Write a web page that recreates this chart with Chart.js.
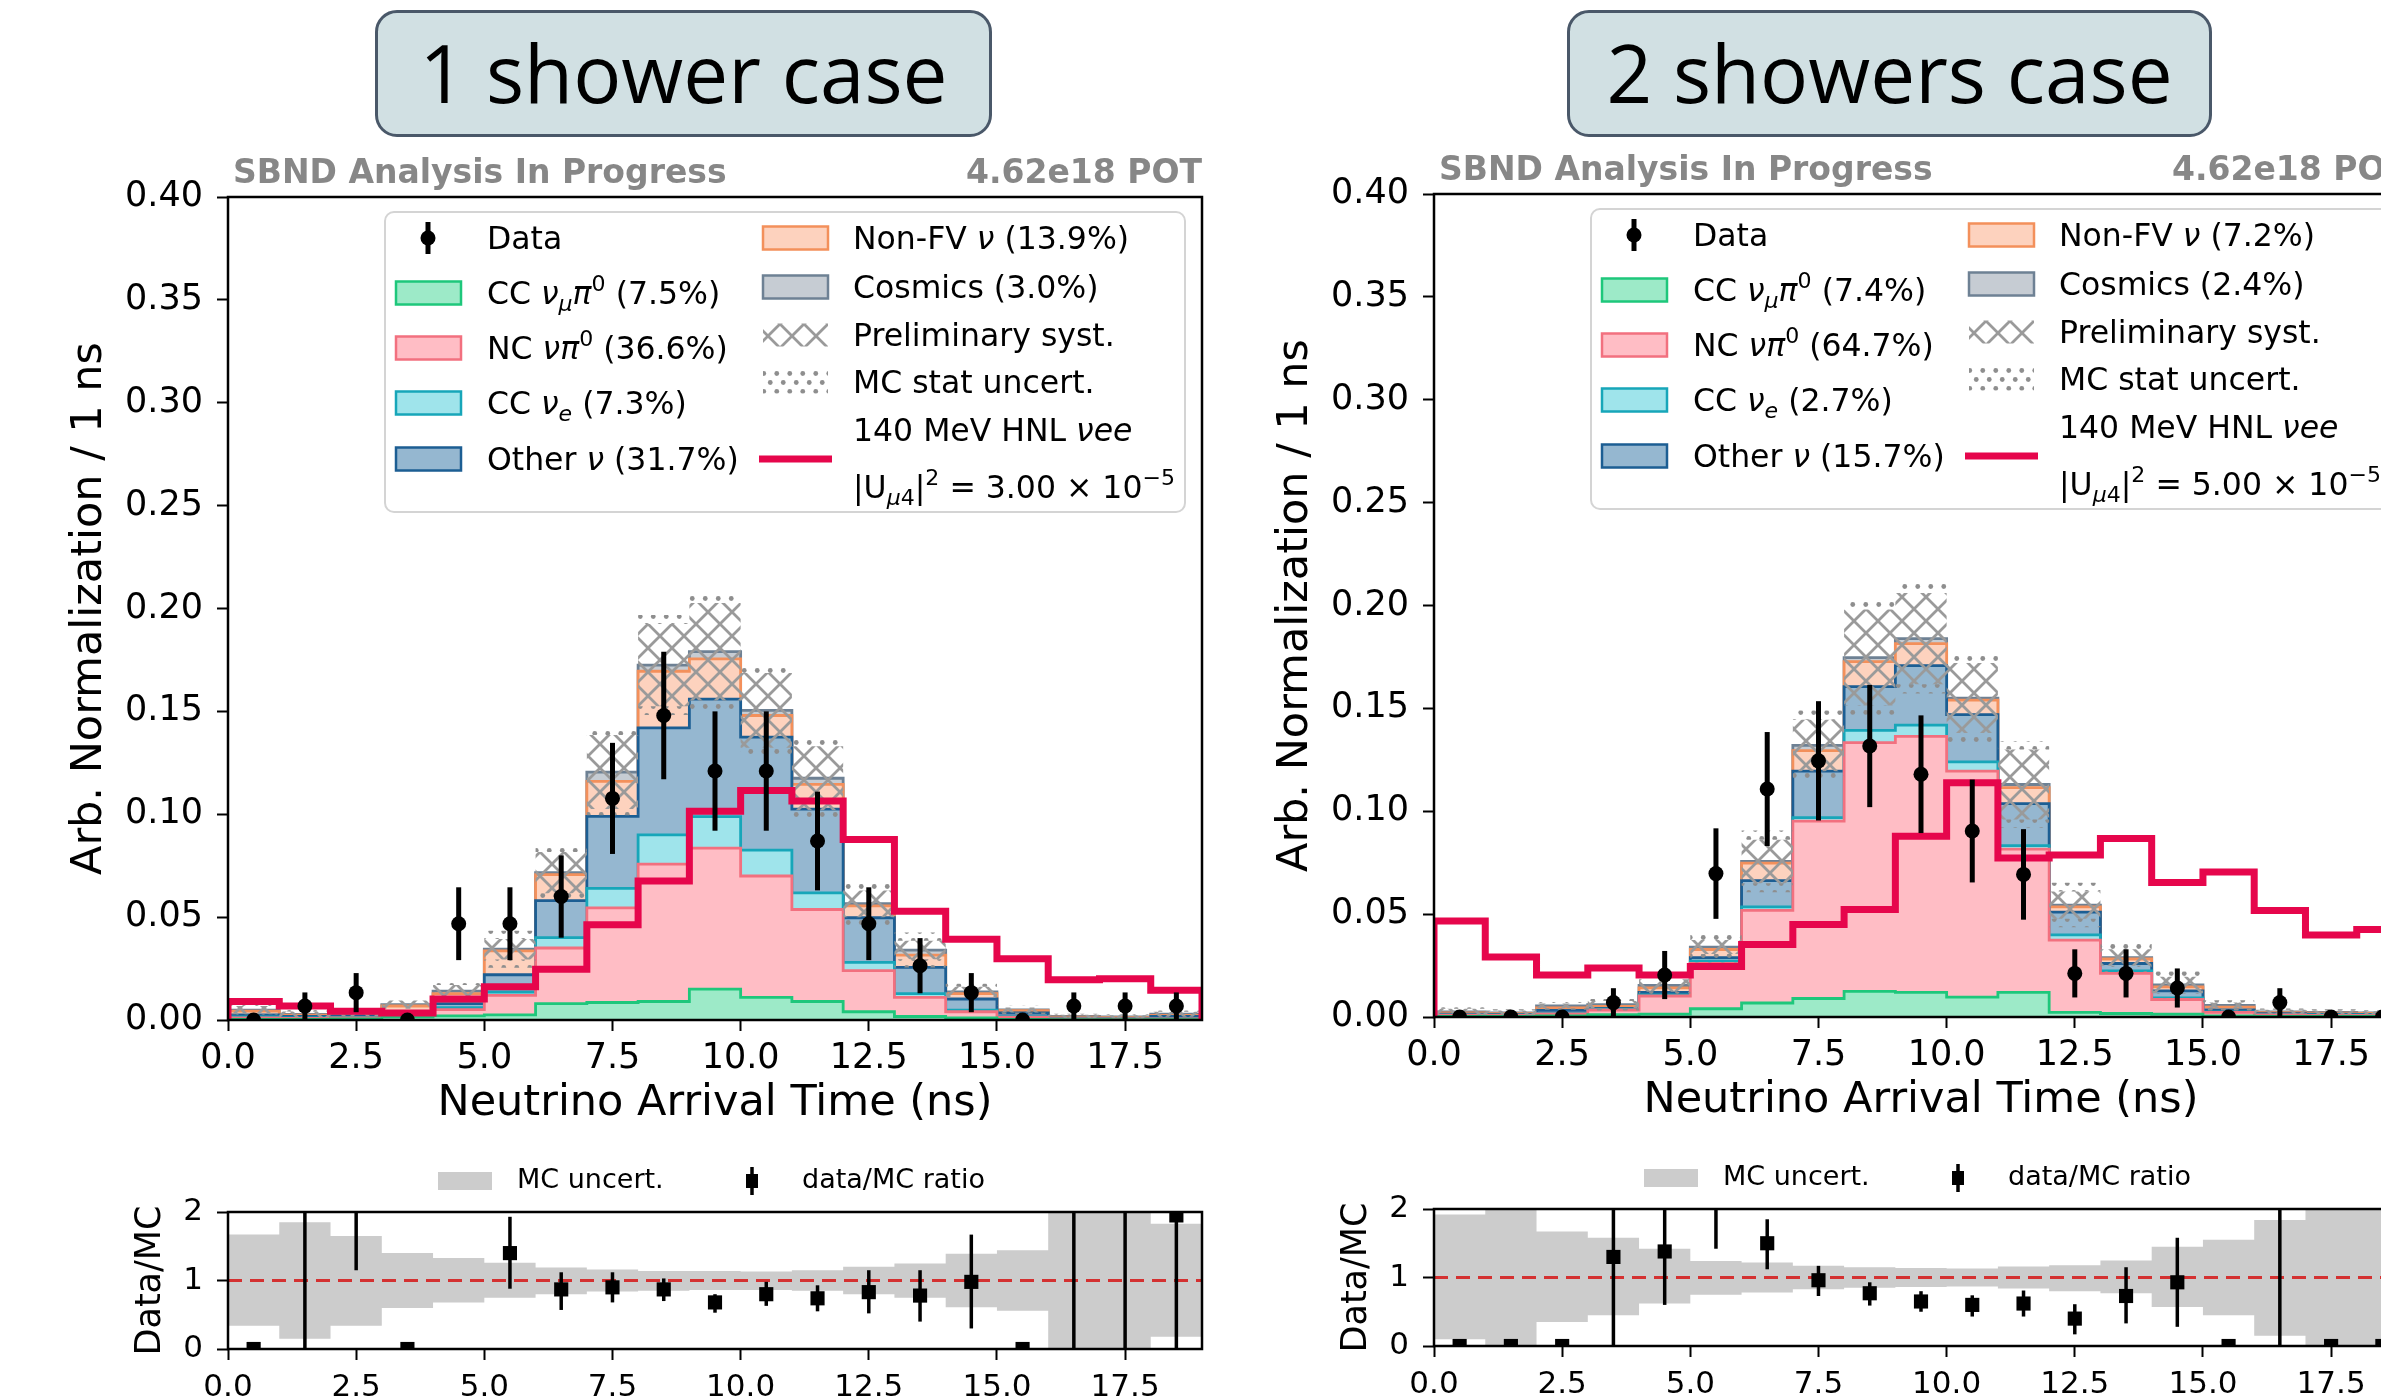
<!DOCTYPE html>
<html>
<head>
<meta charset="utf-8">
<title>Neutrino arrival time - SBND HNL</title>
<script src="https://cdn.jsdelivr.net/npm/chart.js@4.4.1/dist/chart.umd.min.js"></script>
<style>
  html, body { margin: 0; padding: 0; background: #fff; }
  body { width: 2381px; height: 1399px; overflow: hidden; position: relative; }
  canvas { position: absolute; }
  .case { position: absolute; top: 10px; height: 127px; box-sizing: border-box;
          border: 3px solid #4a5869; border-radius: 22px; background: #d1e0e3;
          font-family: "Open Sans"; font-size: 80px; line-height: 118px;
          text-align: center; color: #000; }
</style>
</head>
<body>
<canvas id="main1" width="1260" height="1130" style="left:0;top:0"></canvas>
<canvas id="ratio1" width="1260" height="249" style="left:0;top:1150px"></canvas>
<canvas id="main2" width="1260" height="1130" style="left:1206px;top:-3px"></canvas>
<canvas id="ratio2" width="1260" height="249" style="left:1206px;top:1147px"></canvas>
<div class="case" style="left:375px;width:617px">1 shower case</div>
<div class="case" style="left:1567px;width:645px">2 showers case</div>
<script>
Chart.defaults.font.family = '"DejaVu Sans"';
Chart.defaults.color = '#000';

// bins (ns) and tick labels
const BIN_EDGES = [0, 1, 2, 3, 4, 5, 6, 7, 8, 9, 10, 11, 12, 13, 14, 15, 16, 17, 18, 19];
const X_TICKS = [0, 2.5, 5, 7.5, 10, 12.5, 15, 17.5];
const Y_TICKS = [0, 0.05, 0.1, 0.15, 0.2, 0.25, 0.3, 0.35, 0.4];
const RATIO_TICKS = [0, 1, 2];

// ---- 1 shower case ----
const one_ccnumu = [0.0003, 0.0003, 0.0005, 0.0015, 0.002, 0.0025, 0.008, 0.0085, 0.009, 0.015, 0.011, 0.009, 0.004, 0.0017, 0.001, 0.0003, 0.0002, 0.0002, 0.0002];
const one_ncpi0  = [0.0007, 0.0005, 0.0005, 0.0005, 0.003, 0.0095, 0.027, 0.046, 0.0668, 0.0685, 0.059, 0.0447, 0.020, 0.0093, 0.003, 0.0011, 0.0003, 0.0003, 0.0003];
const one_ccnue  = [0.0005, 0.0002, 0.0002, 0.001, 0.001, 0.0016, 0.005, 0.0095, 0.0142, 0.0153, 0.0126, 0.0081, 0.004, 0.0018, 0.0008, 0.0003, 0.0001, 0.0001, 0.0001];
const one_other  = [0.001, 0.0007, 0.0008, 0.0006, 0.002, 0.0084, 0.018, 0.035, 0.052, 0.0572, 0.0549, 0.0407, 0.0217, 0.0128, 0.0054, 0.0017, 0.0003, 0.0002, 0.0011];
const one_nonfv  = [0.0018, 0.0007, 0.001, 0.0032, 0.0048, 0.0116, 0.0127, 0.017, 0.0275, 0.0195, 0.0105, 0.012, 0.0058, 0.0059, 0.0026, 0.0011, 0.0005, 0.0004, 0.0005];
const one_cosmic = [0.0005, 0.0003, 0.0003, 0.0007, 0.0012, 0.0008, 0.0009, 0.0045, 0.003, 0.0035, 0.0025, 0.003, 0.001, 0.0025, 0.0008, 0.0004, 0.0003, 0.0003, 0.0006];
const one_syst   = [0.002, 0.0014, 0.0015, 0.002, 0.003, 0.005, 0.010, 0.018, 0.020, 0.0237, 0.0182, 0.0155, 0.0065, 0.0045, 0.0025, 0.0012, 0.0008, 0.0008, 0.0012];
const one_stat   = [0.0008, 0.0007, 0.0008, 0.001, 0.0015, 0.004, 0.004, 0.003, 0.0043, 0.0043, 0.0043, 0.0045, 0.004, 0.004, 0.0015, 0.0008, 0.0005, 0.0005, 0.0006];
const one_hnl    = [0.009, 0.0068, 0.0043, 0.0034, 0.0102, 0.0162, 0.0247, 0.0463, 0.0676, 0.1014, 0.1116, 0.1065, 0.0877, 0.0528, 0.0392, 0.0298, 0.0196, 0.0201, 0.0145];
const one_data   = [0, 0.0068, 0.0133, 0, 0.0468, 0.0468, 0.060, 0.1077, 0.148, 0.121, 0.121, 0.087, 0.0468, 0.0264, 0.0133, 0, 0.0068, 0.0068, 0.0068];
const one_dataErr = [0, 0.0066, 0.0095, 0, 0.0177, 0.0177, 0.020, 0.027, 0.031, 0.029, 0.029, 0.024, 0.0177, 0.0134, 0.0095, 0, 0.0066, 0.0066, 0.0066];
const one_ratio   = [0, 2.8, 4.3, 0, 3.6, 1.4, 0.87, 0.9, 0.87, 0.68, 0.8, 0.74, 0.83, 0.78, 0.98, 0, 4.0, 4.5, 1.95];
const one_ratioLo = [0, 0, 1.15, 0, 2.2, 0.88, 0.57, 0.68, 0.70, 0.53, 0.63, 0.55, 0.52, 0.40, 0.30, 0, 0, 0, 0];
const one_ratioHi = [0, 5.6, 7.5, 0, 5.0, 1.93, 1.12, 1.12, 1.03, 0.80, 0.98, 0.93, 1.15, 1.15, 1.67, 0, 8.0, 9.0, 3.9];
const one_bandLo  = [0.34, 0.15, 0.34, 0.6, 0.68, 0.75, 0.8, 0.84, 0.85, 0.86, 0.86, 0.85, 0.8, 0.75, 0.61, 0.56, 0, 0, 0.18];
const one_bandHi  = [1.67, 1.85, 1.65, 1.4, 1.33, 1.26, 1.19, 1.16, 1.14, 1.14, 1.13, 1.15, 1.2, 1.25, 1.39, 1.44, 2, 2, 1.83];

// ---- 2 showers case ----
const two_ccnumu = [0.0003, 0.0003, 0.0005, 0.0012, 0.0014, 0.004, 0.0068, 0.009, 0.0125, 0.012, 0.0097, 0.012, 0.0022, 0.0017, 0.0014, 0.0005, 0.0003, 0.0003, 0.0003];
const two_ncpi0  = [0.0006, 0.0005, 0.001, 0.0022, 0.0088, 0.022, 0.045, 0.0862, 0.1209, 0.1244, 0.1098, 0.0696, 0.0352, 0.0195, 0.0071, 0.0017, 0.0007, 0.0005, 0.0005];
const two_ccnue  = [0.0001, 0.0001, 0.0003, 0.0004, 0.0006, 0.0012, 0.0017, 0.0017, 0.0059, 0.0055, 0.0045, 0.0017, 0.0025, 0.0012, 0.0008, 0.0003, 0.0002, 0.0002, 0.0002];
const two_other  = [0.0004, 0.0003, 0.0014, 0.0004, 0.0011, 0.0017, 0.0128, 0.0226, 0.0213, 0.0289, 0.023, 0.0204, 0.0111, 0.0036, 0.0034, 0.0009, 0.0004, 0.0004, 0.0003];
const two_nonfv  = [0.0006, 0.0004, 0.0012, 0.001, 0.0023, 0.0039, 0.0085, 0.010, 0.0121, 0.0107, 0.007, 0.0078, 0.0025, 0.0022, 0.0019, 0.0014, 0.0005, 0.0005, 0.0004];
const two_cosmic = [0.0005, 0.0004, 0.001, 0.0008, 0.0011, 0.0012, 0.0008, 0.0025, 0.002, 0.0024, 0.001, 0.0015, 0.0009, 0.0007, 0.001, 0.0008, 0.0004, 0.0003, 0.0003];
const two_syst   = [0.0015, 0.0012, 0.0012, 0.0018, 0.003, 0.0034, 0.0106, 0.0125, 0.0233, 0.0222, 0.017, 0.017, 0.0066, 0.004, 0.004, 0.0015, 0.001, 0.001, 0.0008];
const two_stat   = [0.0007, 0.0006, 0.0007, 0.001, 0.002, 0.0042, 0.0044, 0.0045, 0.0045, 0.0045, 0.0043, 0.004, 0.0042, 0.003, 0.0025, 0.001, 0.0006, 0.0006, 0.0005];
const two_hnl    = [0.0467, 0.0292, 0.0204, 0.0238, 0.0204, 0.0246, 0.0352, 0.045, 0.0522, 0.0878, 0.1138, 0.0773, 0.0787, 0.0867, 0.0654, 0.0705, 0.0518, 0.0399, 0.0425];
const two_data   = [0, 0, 0, 0.007, 0.0204, 0.0697, 0.1108, 0.1245, 0.1317, 0.118, 0.0904, 0.0693, 0.0212, 0.0212, 0.0141, 0, 0.007, 0, 0];
const two_dataErr = [0, 0, 0, 0.007, 0.0117, 0.022, 0.0277, 0.029, 0.0297, 0.0286, 0.025, 0.022, 0.0117, 0.0117, 0.0095, 0, 0.007, 0, 0];
const two_ratio   = [0, 0, 0, 1.3, 1.38, 2.1, 1.5, 0.96, 0.77, 0.65, 0.60, 0.62, 0.40, 0.73, 0.93, 0, 2.9, 0, 0];
const two_ratioLo = [0, 0, 0, 0, 0.60, 1.42, 1.12, 0.73, 0.59, 0.50, 0.43, 0.43, 0.17, 0.33, 0.28, 0, 0, 0, 0];
const two_ratioHi = [0, 0, 0, 2.6, 2.2, 2.8, 1.85, 1.17, 0.93, 0.80, 0.74, 0.81, 0.61, 1.15, 1.58, 0, 5.8, 0, 0];
const two_bandLo  = [0.1, 0, 0.35, 0.45, 0.62, 0.75, 0.78, 0.83, 0.85, 0.86, 0.87, 0.84, 0.8, 0.77, 0.57, 0.45, 0.15, 0, 0];
const two_bandHi  = [1.92, 2, 1.67, 1.58, 1.42, 1.24, 1.22, 1.17, 1.15, 1.14, 1.13, 1.16, 1.18, 1.25, 1.45, 1.55, 1.84, 2, 2];

// legend texts: [text, flags]  i = italic, s = subscript, p = superscript
const one_labels = [
  [['CC ', ''], ['ν', 'i'], ['μ', 'is'], ['π', 'i'], ['0', 'p'], [' (7.5%)', '']],
  [['NC ', ''], ['ν', 'i'], ['π', 'i'], ['0', 'p'], [' (36.6%)', '']],
  [['CC ', ''], ['ν', 'i'], ['e', 'is'], [' (7.3%)', '']],
  [['Other ', ''], ['ν', 'i'], [' (31.7%)', '']],
  [['Non-FV ', ''], ['ν', 'i'], [' (13.9%)', '']],
  [['Cosmics (3.0%)', '']],
];
const one_hnlLabel = [
  [['140 MeV HNL ', ''], ['νee', 'i']],
  [['|U', ''], ['μ', 'is'], ['4', 's'], ['|', ''], ['2', 'p'], [' = 3.00 × 10', ''], ['−5', 'p']],
];
const two_labels = [
  [['CC ', ''], ['ν', 'i'], ['μ', 'is'], ['π', 'i'], ['0', 'p'], [' (7.4%)', '']],
  [['NC ', ''], ['ν', 'i'], ['π', 'i'], ['0', 'p'], [' (64.7%)', '']],
  [['CC ', ''], ['ν', 'i'], ['e', 'is'], [' (2.7%)', '']],
  [['Other ', ''], ['ν', 'i'], [' (15.7%)', '']],
  [['Non-FV ', ''], ['ν', 'i'], [' (7.2%)', '']],
  [['Cosmics (2.4%)', '']],
];
const two_hnlLabel = [
  [['140 MeV HNL ', ''], ['νee', 'i']],
  [['|U', ''], ['μ', 'is'], ['4', 's'], ['|', ''], ['2', 'p'], [' = 5.00 × 10', ''], ['−5', 'p']],
];

// styles
const COMP_STYLE = [
  {fill: '#9deac8', edge: '#1ec77b'},  // CC numu pi0
  {fill: '#ffbdc5', edge: '#f2707f'},  // NC pi0
  {fill: '#9fe4eb', edge: '#17a6b9'},  // CC nue
  {fill: '#95b7d0', edge: '#1c5e93'},  // other nu
  {fill: '#fdd2be', edge: '#f3905b'},  // non-FV
  {fill: '#c6ccd3', edge: '#6e8194'},  // cosmics
];
const HNL_COLOR = '#e6064c';
const FONT = '"DejaVu Sans"';

function tileX() {
  const c = document.createElement('canvas');
  c.width = 24; c.height = 24;
  const g = c.getContext('2d');
  g.strokeStyle = '#9a9a9a';
  g.lineWidth = 2.8;
  g.beginPath();
  g.moveTo(-2, -2); g.lineTo(26, 26);
  g.moveTo(26, -2); g.lineTo(-2, 26);
  g.stroke();
  return c;
}
function tileDots() {
  const c = document.createElement('canvas');
  c.width = 13; c.height = 18;
  const g = c.getContext('2d');
  g.fillStyle = '#8e8e8e';
  [[3.25, 4.5], [9.75, 13.5]].forEach(([x, y]) => {
    g.beginPath(); g.arc(x, y, 2.4, 0, 2 * Math.PI); g.fill();
  });
  return c;
}

function drawRich(ctx, segs, x, yc, size) {
  let cx = x;
  ctx.textAlign = 'left';
  ctx.textBaseline = 'alphabetic';
  const base = yc + size * 0.36;
  segs.forEach(([t, f]) => {
    const small = f.includes('s') || f.includes('p');
    const sz = small ? size * 0.7 : size;
    ctx.font = (f.includes('i') ? 'italic ' : '') + sz + 'px ' + FONT;
    const dy = f.includes('s') ? size * 0.22 : f.includes('p') ? -size * 0.42 : 0;
    ctx.fillText(t, cx, base + dy);
    cx += ctx.measureText(t).width;
  });
}

function decorPlugin(cfg) {
  return {
    id: 'decor',
    afterDatasetsDraw(chart) {
      const {ctx, chartArea: a, scales: {x, y}} = chart;
      ctx.save();
      ctx.beginPath();
      ctx.rect(a.left, a.top, a.right - a.left, a.bottom - a.top);
      ctx.clip();
      ctx.strokeStyle = '#000';
      chart.data.datasets.forEach(ds => {
        if (!ds.errLo) return;
        ctx.lineWidth = ds.errWidth;
        ds.data.forEach((p, i) => {
          if (!(ds.errHi[i] > ds.errLo[i])) return;
          const px = x.getPixelForValue(p.x);
          ctx.beginPath();
          ctx.moveTo(px, y.getPixelForValue(ds.errLo[i]));
          ctx.lineTo(px, y.getPixelForValue(ds.errHi[i]));
          ctx.stroke();
        });
      });
      ctx.restore();
    },
    afterDraw(chart) {
      const {ctx, chartArea: a} = chart;
      ctx.save();
      ctx.strokeStyle = '#000';
      ctx.lineWidth = 2.5;
      ctx.strokeRect(a.left, a.top, a.right - a.left, a.bottom - a.top);

      if (cfg.header) {
        ctx.fillStyle = '#878787';
        ctx.font = 'bold 33px ' + FONT;
        ctx.textBaseline = 'alphabetic';
        ctx.textAlign = 'left';
        ctx.fillText('SBND Analysis In Progress', a.left + 5, a.top - 14);
        ctx.textAlign = 'right';
        ctx.fillText('4.62e18 POT', a.right, a.top - 14);
      }

      if (cfg.legend) {
        const L = a.left, T = a.top;
        ctx.fillStyle = 'rgba(255,255,255,0.85)';
        ctx.strokeStyle = '#d4d4d4';
        ctx.lineWidth = 2;
        ctx.beginPath();
        ctx.roundRect(L + 157, T + 15, 800, 300, 9);
        ctx.fill(); ctx.stroke();
        ctx.fillStyle = '#000';
        cfg.legend.forEach(e => {
          const yc = T + e.dy;
          const hx = L + e.hx;
          if (e.kind === 'data') {
            ctx.strokeStyle = '#000'; ctx.lineWidth = 5;
            ctx.beginPath(); ctx.moveTo(hx + 32, yc - 16); ctx.lineTo(hx + 32, yc + 16); ctx.stroke();
            ctx.beginPath(); ctx.arc(hx + 32, yc, 7.5, 0, 2 * Math.PI); ctx.fill();
          } else if (e.kind === 'patch') {
            ctx.fillStyle = e.fill; ctx.fillRect(hx, yc - 11.5, 65, 23);
            ctx.strokeStyle = e.edge; ctx.lineWidth = 2.5; ctx.strokeRect(hx, yc - 11.5, 65, 23);
          } else if (e.kind === 'pattern') {
            ctx.fillStyle = e.pattern; ctx.fillRect(hx, yc - 11.5, 65, 23);
          } else if (e.kind === 'line') {
            ctx.strokeStyle = HNL_COLOR; ctx.lineWidth = 7;
            ctx.beginPath(); ctx.moveTo(hx - 4, yc); ctx.lineTo(hx + 69, yc); ctx.stroke();
          }
          ctx.fillStyle = '#000';
          e.lines.forEach((ln, j) => drawRich(ctx, ln, L + e.tx, T + e.ty[j], 31.5));
        });
      }

      if (cfg.ratioLegend) {
        const L = a.left, yc = a.top - 31;
        ctx.fillStyle = '#cccccc';
        ctx.fillRect(L + 210, yc - 9, 54, 18);
        ctx.fillStyle = '#000';
        ctx.font = '27px ' + FONT;
        ctx.textAlign = 'left';
        ctx.textBaseline = 'middle';
        ctx.fillText('MC uncert.', L + 289, yc);
        ctx.fillText('data/MC ratio', L + 574, yc);
        ctx.strokeStyle = '#000'; ctx.lineWidth = 3.5;
        ctx.beginPath(); ctx.moveTo(L + 524, yc - 14); ctx.lineTo(L + 524, yc + 14); ctx.stroke();
        ctx.fillRect(L + 518, yc - 7, 12, 14);
      }
      ctx.restore();
    }
  };
}

const NB = BIN_EDGES.length - 1;
const CENTERS = BIN_EDGES.slice(0, NB).map((e, i) => (e + BIN_EDGES[i + 1]) / 2);
const step = v => BIN_EDGES.map((e, i) => ({x: e, y: v[Math.min(i, NB - 1)]}));

function axisCommon(ticks) {
  return {
    type: 'linear',
    afterBuildTicks: s => { s.ticks = ticks.map(v => ({value: v})); },
    grid: {drawOnChartArea: false, tickLength: 11, tickWidth: 2, color: '#000'},
    border: {display: false},
  };
}

function buildMain(id, p) {
  const ctx = document.getElementById(id).getContext('2d');
  const xPat = ctx.createPattern(tileX(), 'repeat');
  const dPat = ctx.createPattern(tileDots(), 'repeat');
  const total = CENTERS.map((_, i) => p.comps.reduce((s, c) => s + c[i], 0));
  const base = total.map((t, i) => Math.max(0, t - p.syst[i] - p.stat[i]));
  const syst2 = p.syst.map(s => 2 * s);

  const datasets = [
    {label: 'Data', data: CENTERS.map((c, i) => ({x: c, y: p.data[i]})), showLine: false,
     pointRadius: 7.5, pointBackgroundColor: '#000', pointBorderWidth: 0, stack: 'data', order: 0,
     errLo: p.data.map((d, i) => d - p.err[i]), errHi: p.data.map((d, i) => d + p.err[i]), errWidth: 5},
    {label: 'HNL', data: [{x: BIN_EDGES[0], y: 0}, ...step(p.hnl), {x: BIN_EDGES[NB], y: 0}],
     stepped: 'before', borderColor: HNL_COLOR, borderWidth: 7, fill: false, pointRadius: 0,
     stack: 'hnl', order: 1},
    {label: 'band base', data: step(base), stepped: 'before', borderWidth: 0, pointRadius: 0,
     fill: false, stack: 'band', order: 2},
    {label: 'MC stat uncert.', data: step(p.stat), stepped: 'before', borderWidth: 0, pointRadius: 0,
     fill: '-1', backgroundColor: dPat, stack: 'band', order: 2},
    {label: 'Preliminary syst.', data: step(syst2), stepped: 'before', borderWidth: 0, pointRadius: 0,
     fill: '-1', backgroundColor: xPat, stack: 'band', order: 2},
    {label: 'MC stat uncert.', data: step(p.stat), stepped: 'before', borderWidth: 0, pointRadius: 0,
     fill: '-1', backgroundColor: dPat, stack: 'band', order: 2},
  ];
  p.comps.forEach((c, k) => datasets.push({
    label: 'comp' + k, data: step(c), stepped: 'before', pointRadius: 0,
    backgroundColor: COMP_STYLE[k].fill, borderColor: COMP_STYLE[k].edge, borderWidth: 2.8,
    fill: k === 0 ? 'origin' : '-1', stack: 'mc', order: 3,
  }));

  const col1 = [41, 96, 151, 206, 262];
  const col2 = [41, 90, 138, 185];
  const legend = [
    {kind: 'data', dy: col1[0], hx: 168, tx: 259, ty: [col1[0]], lines: [[['Data', '']]]},
  ];
  for (let k = 0; k < 4; k++) {
    legend.push({kind: 'patch', fill: COMP_STYLE[k].fill, edge: COMP_STYLE[k].edge,
                 dy: col1[k + 1], hx: 168, tx: 259, ty: [col1[k + 1]], lines: [p.labels[k]]});
  }
  legend.push({kind: 'patch', fill: COMP_STYLE[4].fill, edge: COMP_STYLE[4].edge,
               dy: col2[0], hx: 535, tx: 625, ty: [col2[0]], lines: [p.labels[4]]});
  legend.push({kind: 'patch', fill: COMP_STYLE[5].fill, edge: COMP_STYLE[5].edge,
               dy: col2[1], hx: 535, tx: 625, ty: [col2[1]], lines: [p.labels[5]]});
  legend.push({kind: 'pattern', pattern: xPat, dy: col2[2], hx: 535, tx: 625, ty: [col2[2]],
               lines: [[['Preliminary syst.', '']]]});
  legend.push({kind: 'pattern', pattern: dPat, dy: col2[3], hx: 535, tx: 625, ty: [col2[3]],
               lines: [[['MC stat uncert.', '']]]});
  legend.push({kind: 'line', dy: 262, hx: 535, tx: 625, ty: [233, 290], lines: p.hnlLabel});

  const xAxis = Object.assign(axisCommon(X_TICKS), {
    min: BIN_EDGES[0], max: BIN_EDGES[NB],
    afterFit: s => { s.height = 110; },
    ticks: {font: {size: 35}, padding: 7, maxRotation: 0, autoSkip: false, callback: v => v.toFixed(1)},
    title: {display: true, text: 'Neutrino Arrival Time (ns)', font: {size: 43}, padding: {top: 0, bottom: 0}},
  });
  const yAxis = Object.assign(axisCommon(Y_TICKS), {
    stacked: true, min: 0, max: 0.4,
    afterFit: s => { s.width = 228; },
    ticks: {font: {size: 35}, padding: 14, callback: v => v.toFixed(2)},
    title: {display: true, text: 'Arb. Normalization / 1 ns', font: {size: 43}, padding: {top: 64, bottom: 0}},
  });

  return new Chart(ctx, {
    type: 'line',
    data: {datasets},
    options: {
      responsive: false, animation: false, devicePixelRatio: 1, events: [],
      layout: {padding: {top: 197, right: 58, left: 0, bottom: 0}},
      plugins: {legend: {display: false}, tooltip: {enabled: false}},
      scales: {x: xAxis, y: yAxis},
    },
    plugins: [decorPlugin({header: true, legend})],
  });
}

function buildRatio(id, p) {
  const datasets = [
    {label: 'data/MC ratio', data: CENTERS.map((c, i) => ({x: c, y: p.ratio[i]})), showLine: false,
     pointStyle: 'rect', pointRadius: 10, pointBackgroundColor: '#000', pointBorderWidth: 0, order: 0,
     errLo: p.rLo, errHi: p.rHi, errWidth: 3.5},
    {label: 'unity', data: [{x: BIN_EDGES[0], y: 1}, {x: BIN_EDGES[NB], y: 1}], borderColor: '#d43131',
     borderWidth: 3.2, borderDash: [14, 8], pointRadius: 0, fill: false, order: 1},
    {label: 'band lo', data: step(p.bLo), stepped: 'before', borderWidth: 0, pointRadius: 0, fill: false, order: 2},
    {label: 'MC uncert.', data: step(p.bHi), stepped: 'before', borderWidth: 0, pointRadius: 0,
     fill: '-1', backgroundColor: '#cccccc', order: 2},
  ];
  const xAxis = Object.assign(axisCommon(X_TICKS), {
    min: BIN_EDGES[0], max: BIN_EDGES[NB],
    afterFit: s => { s.height = 50; },
    ticks: {font: {size: 31}, padding: 9, maxRotation: 0, autoSkip: false, callback: v => v.toFixed(1)},
  });
  const yAxis = Object.assign(axisCommon(RATIO_TICKS), {
    min: 0, max: 2,
    afterFit: s => { s.width = 228; },
    ticks: {font: {size: 31}, padding: 14, callback: v => String(v)},
    title: {display: true, text: 'Data/MC', font: {size: 35}, padding: {top: 130, bottom: 0}},
  });
  return new Chart(document.getElementById(id), {
    type: 'line',
    data: {datasets},
    options: {
      responsive: false, animation: false, devicePixelRatio: 1, events: [],
      layout: {padding: {top: 62, right: 58, left: 0, bottom: 0}},
      plugins: {legend: {display: false}, tooltip: {enabled: false}},
      scales: {x: xAxis, y: yAxis},
    },
    plugins: [decorPlugin({ratioLegend: true})],
  });
}

buildMain('main1', {
  comps: [one_ccnumu, one_ncpi0, one_ccnue, one_other, one_nonfv, one_cosmic],
  syst: one_syst, stat: one_stat, hnl: one_hnl, data: one_data, err: one_dataErr,
  labels: one_labels, hnlLabel: one_hnlLabel,
});
buildRatio('ratio1', {ratio: one_ratio, rLo: one_ratioLo, rHi: one_ratioHi, bLo: one_bandLo, bHi: one_bandHi});
buildMain('main2', {
  comps: [two_ccnumu, two_ncpi0, two_ccnue, two_other, two_nonfv, two_cosmic],
  syst: two_syst, stat: two_stat, hnl: two_hnl, data: two_data, err: two_dataErr,
  labels: two_labels, hnlLabel: two_hnlLabel,
});
buildRatio('ratio2', {ratio: two_ratio, rLo: two_ratioLo, rHi: two_ratioHi, bLo: two_bandLo, bHi: two_bandHi});
</script>
</body>
</html>
